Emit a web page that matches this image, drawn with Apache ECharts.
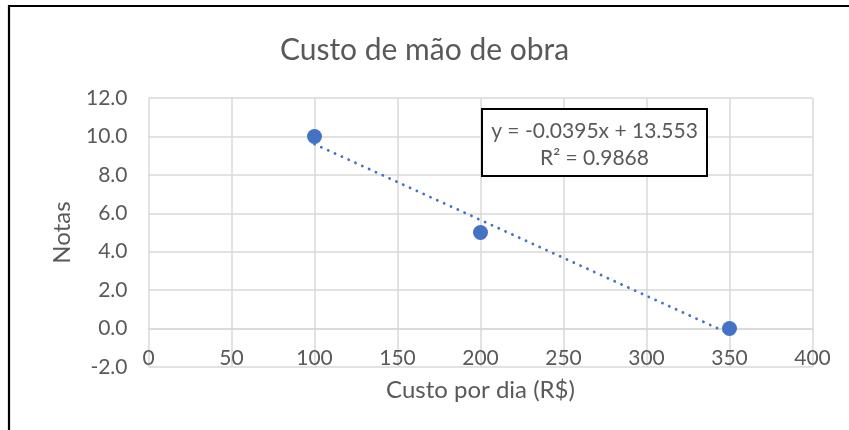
<!DOCTYPE html>
<html>
<head>
<meta charset="utf-8">
<script src="https://cdn.jsdelivr.net/npm/echarts@6/dist/echarts.min.js"></script>
<style>
  html, body { margin: 0; padding: 0; background: #fff; }
  #chart { width: 849px; height: 430px; }
</style>
</head>
<body>
<div id="chart"></div>
<script>
// data
const custoDia = [100, 200, 350]
const notas = [10, 5, 0]
// trendline endpoints (from the printed equation, x = 100 and x = 350)
const trendX = [100, 350]
const trendY = [9.6, -0.27]
const xTicks = [0, 50, 100, 150, 200, 250, 300, 350, 400]
const yTicks = [-2, 0, 2, 4, 6, 8, 10, 12]
const equationText = ['y = -0.0395x + 13.553', 'R² = 0.9868']

const txt = '#595959'
const blue = '#4472C4'
const grid = '#d9d9d9'
const font = 'Lato, "Open Sans", sans-serif'

const chart = echarts.init(document.getElementById('chart'), null, { renderer: 'canvas' })

const option = {
  animation: false,
  backgroundColor: '#fff',
  textStyle: { fontFamily: font },
  title: {
    text: 'Custo de mão de obra',
    left: 'center',
    top: 30,
    textStyle: { color: txt, fontSize: 30, fontWeight: 'normal', fontFamily: font }
  },
  grid: { left: 148.5, right: 36.5, top: 98, bottom: 63, outerBoundsMode: 'none', containLabel: false },
  xAxis: {
    type: 'value',
    min: xTicks[0],
    max: xTicks[xTicks.length - 1],
    interval: 50,
    name: 'Custo por dia (R$)',
    nameLocation: 'middle',
    nameGap: 11,
    nameTextStyle: { color: txt, fontSize: 24, fontFamily: font },
    axisLine: { show: true, onZero: true, lineStyle: { color: grid, width: 1.5 } },
    axisTick: { show: false },
    // labels sit just under the zero line, as in the original
    axisLabel: { color: txt, fontSize: 21, margin: -19, fontFamily: font },
    splitLine: { show: true, lineStyle: { color: grid, width: 1.5 } }
  },
  yAxis: {
    type: 'value',
    min: yTicks[0],
    max: yTicks[yTicks.length - 1],
    interval: 2,
    name: 'Notas',
    nameLocation: 'middle',
    nameGap: 74,
    nameRotate: 90,
    nameTextStyle: { color: txt, fontSize: 24, fontFamily: font },
    axisLine: { show: false },
    axisTick: { show: false },
    axisLabel: {
      color: txt, fontSize: 21, margin: 21, fontFamily: font,
      formatter: function (v) { return v.toFixed(1) }
    },
    splitLine: { show: true, lineStyle: { color: grid, width: 1.5 } }
  },
  series: [
    {
      type: 'line',
      data: trendX.map((x, i) => [x, trendY[i]]),
      symbol: 'none',
      silent: true,
      z: 2,
      lineStyle: { color: blue, width: 2.8, type: [0.1, 7.4], cap: 'round' }
    },
    {
      type: 'scatter',
      data: custoDia.map((x, i) => [x, notas[i]]),
      symbol: 'circle',
      symbolSize: 15,
      z: 3,
      itemStyle: { color: blue, opacity: 1 }
    }
  ],
  graphic: [
    // frame of the chart (left and top edges visible)
    {
      type: 'polyline',
      shape: { points: [[9, 430], [9, 6], [849, 6]] },
      style: { stroke: '#000', lineWidth: 2.2, fill: null }
    },
    // trendline label box
    {
      type: 'rect',
      shape: { x: 482, y: 109, width: 225, height: 67 },
      style: { fill: '#fff', stroke: '#000', lineWidth: 2 },
      z: 10
    },
    {
      type: 'text',
      x: 594.5, y: 131,
      z: 11,
      style: {
        text: equationText[0], fill: txt, fontSize: 21, fontFamily: font,
        align: 'center', verticalAlign: 'middle'
      }
    },
    {
      type: 'text',
      x: 594.5, y: 158,
      z: 11,
      style: {
        text: equationText[1], fill: txt, fontSize: 21, fontFamily: font,
        align: 'center', verticalAlign: 'middle'
      }
    }
  ]
}

chart.setOption(option)
</script>
</body>
</html>
